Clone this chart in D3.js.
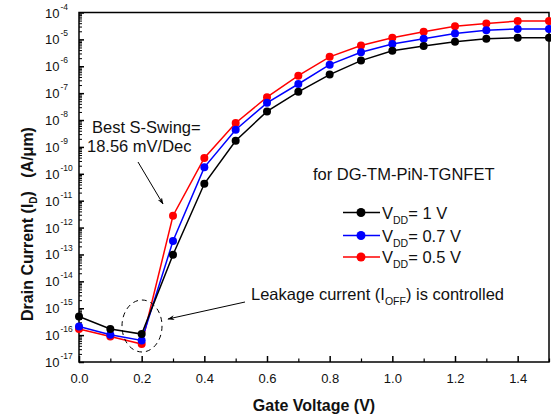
<!DOCTYPE html>
<html><head><meta charset="utf-8">
<script src="https://cdn.jsdelivr.net/npm/d3@7/dist/d3.min.js"></script>
<style>body{margin:0;background:#fff}svg{display:block}text{font-family:"Liberation Sans",Arial,sans-serif}</style>
</head><body><svg id="c" width="551" height="418"></svg>
<script>
const vg = [0,0.1,0.2,0.3,0.4,0.5,0.6,0.7,0.8,0.9,1.0,1.1,1.2,1.3,1.4,1.5];
// log10 of drain current
const logV1  = [-15.31,-15.77,-15.96,-13.01,-10.37,-8.77,-7.68,-6.95,-6.31,-5.79,-5.42,-5.25,-5.09,-4.98,-4.94,-4.94];
const logV07 = [-15.68,-15.99,-16.20,-12.50,-9.76,-8.36,-7.36,-6.66,-5.94,-5.48,-5.17,-4.98,-4.78,-4.66,-4.61,-4.61];
const logV05 = [-15.77,-16.05,-16.33,-11.56,-9.41,-8.11,-7.15,-6.35,-5.65,-5.23,-4.94,-4.72,-4.51,-4.41,-4.32,-4.32];
const seriesNames = ["1 V","0.7 V","0.5 V"];
const seriesColors = ["#000000","#0000ff","#ff0000"];
const xTicks = [0,0.2,0.4,0.6,0.8,1.0,1.2,1.4];
const yExps = d3.range(-17,-3);

const svg = d3.select("#c");
const L=79, R=549, T=12.5, B=362;
const x = d3.scaleLinear().domain([0,1.5]).range([L,R]);
const y = d3.scaleLog().domain([1e-17,1e-4]).range([B,T]);

// frame
svg.append("rect").attr("x",L).attr("y",T).attr("width",R-L).attr("height",B-T)
  .attr("fill","none").attr("stroke","#000").attr("stroke-width",1.5);

// x axis ticks (inward)
const gx = svg.append("g").attr("transform",`translate(0,${B})`);
gx.call(d3.axisBottom(x).tickValues(xTicks).tickSize(-6).tickFormat(d3.format(".1f")).tickPadding(12));
gx.select(".domain").remove();
gx.selectAll("line").attr("stroke-width",1.5);
gx.selectAll("text").attr("font-size",13).attr("fill","#111");
const gxm = svg.append("g").attr("transform",`translate(0,${B})`);
gxm.call(d3.axisBottom(x).tickValues([0.1,0.3,0.5,0.7,0.9,1.1,1.3,1.5]).tickSize(-3.5).tickFormat(""));
gxm.select(".domain").remove();
gxm.selectAll("line").attr("stroke-width",1.2);

// y axis ticks
const gy = svg.append("g").attr("transform",`translate(${L},0)`);
gy.call(d3.axisLeft(y).tickValues(yExps.map(e=>Math.pow(10,e))).tickSize(-5).tickFormat(""));
gy.select(".domain").remove();
gy.selectAll("line").attr("stroke-width",1.5);
const minors=[];
yExps.slice(0,-1).forEach(e=>{for(let k=2;k<10;k++)minors.push(k*Math.pow(10,e));});
const gym = svg.append("g").attr("transform",`translate(${L},0)`);
gym.call(d3.axisLeft(y).tickValues(minors).tickSize(-3).tickFormat(""));
gym.select(".domain").remove();
gym.selectAll("line").attr("stroke-width",1);
// y tick labels
yExps.forEach(e=>{
  svg.append("text").attr("x",59.5).attr("y",y(Math.pow(10,e))+5)
    .attr("text-anchor","end").attr("font-size",13).attr("fill","#111").text("10");
  svg.append("text").attr("x",60.5).attr("y",y(Math.pow(10,e))-3)
    .attr("font-size",8.5).attr("fill","#111").text(String(e));
});

// series
const line = d3.line().x(d=>x(d[0])).y(d=>y(Math.pow(10,d[1])));
const all = [logV1,logV07,logV05];
[2,1,0].forEach(i=>{
  const data = vg.map((v,j)=>[v,all[i][j]]);
  svg.append("path").datum(data).attr("d",line).attr("fill","none")
    .attr("stroke",seriesColors[i]).attr("stroke-width",1.5);
  svg.append("g").selectAll("circle").data(data).join("circle")
    .attr("cx",d=>x(d[0])).attr("cy",d=>y(Math.pow(10,d[1]))).attr("r",4)
    .attr("fill",seriesColors[i]);
});

// annotations
svg.append("defs").append("marker").attr("id","ar").attr("viewBox","0 0 10 10")
  .attr("refX",9).attr("refY",5).attr("markerWidth",7).attr("markerHeight",7)
  .attr("orient","auto").append("path").attr("d","M0,1.5 L10,5 L0,8.5 L3,5 Z").attr("fill","#000");
svg.append("text").attr("x",92).attr("y",133).attr("font-size",16.5).attr("fill","#111").text("Best S-Swing=");
svg.append("text").attr("x",87).attr("y",152).attr("font-size",16.5).attr("fill","#111").text("18.56 mV/Dec");
svg.append("line").attr("x1",138).attr("y1",162).attr("x2",163).attr("y2",204)
  .attr("stroke","#000").attr("stroke-width",1).attr("marker-end","url(#ar)");

svg.append("text").attr("x",313).attr("y",180).attr("font-size",16.5).attr("fill","#111").text("for DG-TM-PiN-TGNFET");

// legend
const ly=[212.5,235.5,257];
[0,1,2].forEach(i=>{
  svg.append("line").attr("x1",343).attr("x2",380).attr("y1",ly[i]).attr("y2",ly[i])
    .attr("stroke",seriesColors[i]).attr("stroke-width",1.5);
  svg.append("circle").attr("cx",361).attr("cy",ly[i]).attr("r",4.5).attr("fill",seriesColors[i]);
  const t=svg.append("text").attr("x",382).attr("y",ly[i]+6).attr("font-size",16.5).attr("fill","#111");
  t.append("tspan").text("V");
  t.append("tspan").attr("font-size",10.5).attr("dy",5).text("DD");
  t.append("tspan").attr("dy",-5).text("= "+seriesNames[i]);
});

// leakage annotation
const lt=svg.append("text").attr("x",251).attr("y",300).attr("font-size",16.5).attr("fill","#111");
lt.append("tspan").text("Leakage current (I");
lt.append("tspan").attr("font-size",10.5).attr("dy",5).text("OFF");
lt.append("tspan").attr("dy",-5).text(") is controlled");
svg.append("line").attr("x1",245).attr("y1",302).attr("x2",168).attr("y2",319)
  .attr("stroke","#000").attr("stroke-width",1).attr("marker-end","url(#ar)");
svg.append("ellipse").attr("cx",142).attr("cy",326).attr("rx",20).attr("ry",26)
  .attr("fill","none").attr("stroke","#000").attr("stroke-width",1).attr("stroke-dasharray","5,4");

// axis titles
svg.append("text").attr("x",314).attr("y",411).attr("text-anchor","middle")
  .attr("font-size",16).attr("font-weight","bold").attr("fill","#111").text("Gate Voltage (V)");
const yt=svg.append("text").attr("transform","translate(33,224) rotate(-90)").attr("text-anchor","middle")
  .attr("font-size",16).attr("font-weight","bold").attr("fill","#111");
yt.append("tspan").text("Drain Current (I");
yt.append("tspan").attr("font-size",10).attr("dy",4).text("D");
yt.append("tspan").attr("dy",-4).text(")\u00a0\u00a0 (A/\u03bcm)");
</script></body></html>
